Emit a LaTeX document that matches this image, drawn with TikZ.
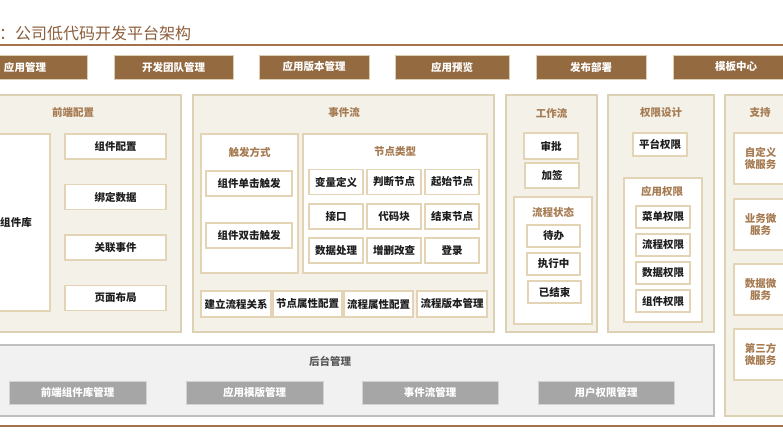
\documentclass[tikz,border=0pt]{standalone}
\usepackage{fontspec}
\setmainfont{Noto Sans CJK SC}
\usepackage{xcolor}
\usepackage{tikz}
\usetikzlibrary{positioning}

\definecolor{btnbrown}{HTML}{946A41}
\definecolor{btnedge}{HTML}{DCCDB5}
\definecolor{ttlbrown}{HTML}{8C5E3C}
\definecolor{headbrown}{HTML}{A67B52}
\definecolor{rulebrown}{HTML}{A3714C}
\definecolor{panelbg}{HTML}{F4F1E9}
\definecolor{paneledge}{HTML}{DDD1B4}
\definecolor{boxedge}{HTML}{E2D4B4}
\definecolor{backbg}{HTML}{F1F1F1}
\definecolor{backedge}{HTML}{BFBFBF}
\definecolor{gbtnfill}{HTML}{A6A6A6}
\definecolor{gbtnedge}{HTML}{D3D3D3}
\definecolor{inktext}{HTML}{1E1E1E}

\begin{document}
\begin{tikzpicture}[x=1pt, y=-1pt,
  topbtn/.style={draw=btnedge, line width=0.8pt, fill=btnbrown, text=white,
                 font=\bfseries\fontsize{10.5}{12}\selectfont,
                 minimum width=#1, minimum height=24pt, inner sep=0pt},
  panel/.style n args={2}{draw=paneledge, fill=panelbg, line width=1.3pt,
                 minimum width=#1, minimum height=#2, inner sep=0pt},
  inbox/.style n args={2}{draw=boxedge, fill=white, line width=1.3pt,
                 minimum width=#1, minimum height=#2, inner sep=0pt},
  item/.style n args={2}{inbox={#1}{#2}, text=inktext,
                 font=\bfseries\fontsize{10.5}{12}\selectfont},
  head/.style={text=headbrown, font=\bfseries\fontsize{10.5}{12}\selectfont},
  svc/.style={inbox={53pt}{51pt}, text=headbrown, align=center,
                 font=\bfseries\fontsize{10.5}{12.5}\selectfont},
  gbtn/.style={draw=gbtnedge, line width=0.8pt, fill=gbtnfill, text=white,
                 font=\bfseries\fontsize{10.5}{12}\selectfont,
                 minimum width=#1, minimum height=23pt, inner sep=0pt},
  rule/.style={rulebrown, line width=1.4pt}
]
\useasboundingbox (0,0) rectangle (783,435);

%% ---- title ----
\node[anchor=west, text=ttlbrown, font=\fontsize{16}{18}\selectfont, inner sep=0pt]
  (title) at (-1,33) {：公司低代码开发平台架构};
\coordinate (rl1) at (0,45);
\coordinate (rr1) at (783,45);
\draw[rule] (rl1) -- (rr1);

%% ---- top bar ----
\node[topbtn=124pt] (appm)  at (25,67)    {应用管理};
\node[topbtn=119pt] (team)  at (173.5,67) {开发团队管理};
\node[topbtn=110pt] (ver)   at (314,67)   {应用版本管理};
\node[topbtn=114pt] (prev)  at (452,67)   {应用预览};
\node[topbtn=110pt] (dep)   at (591,67)   {发布部署};
\node[topbtn=126pt] (tmpl)  at (736,67)   {模板中心};

%% ---- panels ----
\node[panel={216pt}{237pt}] (front) at (73,213.5)    {};
\node[panel={301pt}{237pt}] (event) at (343.5,213.5) {};
\node[panel={91pt}{237pt}]  (wf)    at (551.5,213.5) {};
\node[panel={106pt}{237pt}] (perm)  at (661,213.5)   {};
\node[panel={71pt}{321pt}]  (sup)   at (760.5,255.5) {};

\node[head] (frontT) at (73,113)    {前端配置};
\node[head] (eventT) at (344,113)   {事件流};
\node[head] (wfT)    at (551.5,113) {工作流};
\node[head] (permT)  at (661,113)   {权限设计};
\node[head] (supT)   at (760,113)   {支持};

%% ---- front config ----
\node[item={68pt}{177pt}]  (lib)  at (16,222.5)  {组件库};
\node[item={101pt}{25pt}]  (cfg)  at (115.5,146.5) {组件配置};
\node[item={101pt}{25pt}]  (bind) at (115.5,197)   {绑定数据};
\node[item={101pt}{25pt}]  (rel)  at (115.5,247.5) {关联事件};
\node[item={101pt}{25pt}]  (lay)  at (115.5,298)   {页面布局};

%% ---- event flow ----
\node[inbox={97pt}{139pt}]  (trig)  at (249.5,203.5) {};
\node[inbox={184pt}{139pt}] (ntype) at (395,203.5)   {};
\node[head] (trigT)  at (249.5,152) {触发方式};
\node[head] (ntypeT) at (395,152)   {节点类型};

\node[item={86pt}{25pt}] (click1) at (249,183.5) {组件单击触发};
\node[item={86pt}{25pt}] (click2) at (249,235.5) {组件双击触发};

\node[item={54pt}{25pt}] (n11) at (336,182)   {变量定义};
\node[item={54pt}{25pt}] (n12) at (394,182)   {判断节点};
\node[item={54pt}{25pt}] (n13) at (452,182)   {起始节点};
\node[item={54pt}{25pt}] (n21) at (336,216.5) {接口};
\node[item={54pt}{25pt}] (n22) at (394,216.5) {代码块};
\node[item={54pt}{25pt}] (n23) at (452,216.5) {结束节点};
\node[item={54pt}{25pt}] (n31) at (336,250.5) {数据处理};
\node[item={54pt}{25pt}] (n32) at (394,250.5) {增删改查};
\node[item={54pt}{25pt}] (n33) at (452,250.5) {登录};

\node[item={70pt}{26pt}] (f1) at (236,304)   {建立流程关系};
\node[item={69pt}{26pt}] (f2) at (307.5,304) {节点属性配置};
\node[item={69pt}{26pt}] (f3) at (378.5,304) {流程属性配置};
\node[item={70pt}{26pt}] (f4) at (452,304)   {流程版本管理};

%% ---- workflow ----
\node[item={54pt}{26pt}] (appr) at (551,146)   {审批};
\node[item={54pt}{25pt}] (sign) at (552,175.5) {加签};
\node[inbox={78pt}{127pt}] (state) at (553,260.5) {};
\node[head] (stateT) at (553,212) {流程状态};
\node[item={53pt}{22pt}] (todo) at (553.5,236) {待办};
\node[item={53pt}{22pt}] (run)  at (553.5,264) {执行中};
\node[item={53pt}{22pt}] (done) at (554.5,292) {已结束};

%% ---- permissions ----
\node[item={54pt}{23pt}] (plat) at (660,144.5) {平台权限};
\node[inbox={78pt}{144pt}] (aperm) at (663,250) {};
\node[head] (apermT) at (662,191) {应用权限};
\foreach \y/\t/\n in {217/菜单权限/p1, 245/流程权限/p2, 273/数据权限/p3, 301/组件权限/p4}
  \node[item={54pt}{22pt}] (\n) at (663,\y) {\t};

%% ---- support ----
\node[svc] (s1) at (760.5,158.5) {自定义\\微服务};
\node[svc] (s2) at (760.5,224.5) {业务微\\服务};
\node[svc] (s3) at (760.5,289.5) {数据微\\服务};
\node[svc] (s4) at (760.5,354.5) {第三方\\微服务};

%% ---- back office ----
\node[draw=backedge, fill=backbg, line width=1.2pt, minimum width=768pt,
      minimum height=71pt, inner sep=0pt] (back) at (330,380.5) {};
\node[text=black!65, font=\bfseries\fontsize{10.5}{12}\selectfont] (backT) at (330,361) {后台管理};
\node[gbtn=137pt] (g1) at (77.5,392.5) {前端组件库管理};
\node[gbtn=137pt] (g2) at (254.5,392.5) {应用模版管理};
\node[gbtn=136pt] (g3) at (430,392.5) {事件流管理};
\node[gbtn=136pt] (g4) at (606,392.5) {用户权限管理};

%% bottom rule
\coordinate (rl2) at (0,426);
\coordinate (rr2) at (783,426);
\draw[rulebrown, line width=1.2pt] (rl2) -- (rr2);

\end{tikzpicture}
\end{document}
